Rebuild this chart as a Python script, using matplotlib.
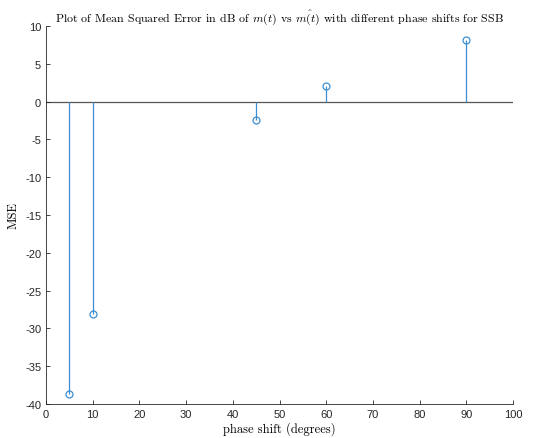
import matplotlib
matplotlib.use('Agg')
import matplotlib.pyplot as plt

# MSE (dB) at each phase shift
phase_deg = [5, 10, 45, 60, 90]
mse_db = [-38.7, -28.1, -2.4, 2.1, 8.2]

plt.rcParams['mathtext.fontset'] = 'cm'
plt.rcParams['font.family'] = 'sans-serif'
plt.rcParams['font.sans-serif'] = ['Liberation Sans']
plt.rcParams['axes.unicode_minus'] = False

fig = plt.figure(figsize=(5.35, 4.39), dpi=100)
ax = fig.add_axes([46 / 535, 1 - 405 / 439, 467 / 535, 378 / 439])

stem_color = '#3d8fd1'
markerline, stemlines, baseline = ax.stem(phase_deg, mse_db, basefmt=' ')
plt.setp(stemlines, color=stem_color, linewidth=0.9)
plt.setp(markerline, color=stem_color, marker='o', markerfacecolor='none',
         markersize=5, markeredgewidth=0.9)
ax.axhline(0, color='#555555', linewidth=0.9, zorder=1)

ax.set_xlim(0, 100)
ax.set_ylim(-40, 10)
ax.set_xticks(range(0, 101, 10))
ax.set_yticks(range(-40, 11, 5))
ax.tick_params(direction='in', length=3, width=0.6, labelsize=8, colors='#262626')
for lbl in ax.get_xticklabels() + ax.get_yticklabels():
    lbl.set_fontfamily('Liberation Sans')
for side in ['top', 'right']:
    ax.spines[side].set_visible(False)
for side in ['left', 'bottom']:
    ax.spines[side].set_color('#262626')
    ax.spines[side].set_linewidth(0.6)

ax.set_title(r'Plot of Mean Squared Error in dB of $m(t)$ vs $\hat{m(t)}$ with different phase shifts for SSB',
             fontfamily='cmr10', fontsize=8.6, pad=4)
ax.set_xlabel('phase shift (degrees)', fontfamily='cmr10', fontsize=9, labelpad=2)
ax.set_ylabel('MSE', fontfamily='cmr10', fontsize=9, labelpad=4)

fig.savefig('out.png', dpi=100)
